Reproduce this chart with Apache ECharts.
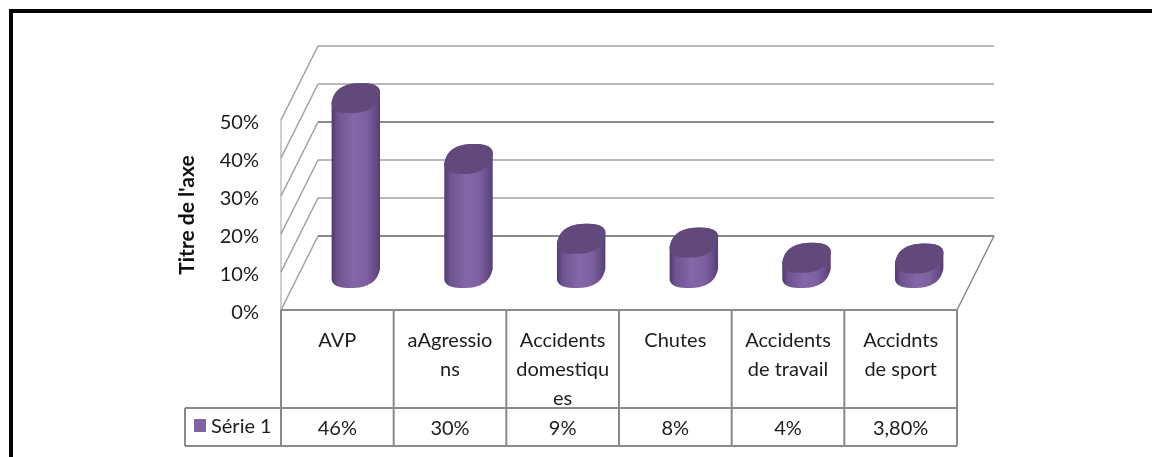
<!DOCTYPE html>
<html><head><meta charset="utf-8">
<style>html,body{margin:0;padding:0;background:#fff}#c{width:1152px;height:457px}</style>
<script src="https://cdn.jsdelivr.net/npm/echarts@6/dist/echarts.min.js"></script>
</head><body><div id="c"></div>
<script>
const categories = ['AVP','aAgressions','Accidents domestiques','Chutes','Accidents de travail','Accidnts de sport'];
const wrappedLabels = ['AVP','aAgressio\nns','Accidents\ndomestiqu\nes','Chutes','Accidents\nde travail','Accidnts\nde sport'];
const values = [46,30,9,8,4,3.8];
const tableValues = ['46%','30%','9%','8%','4%','3,80%'];
const seriesName = 'Série 1';
const gridTicks = [0,10,20,30,40,50];

const FONT = 'Lato, "Open Sans", sans-serif';
const DX = 37, DY = -74;       // oblique depth of the 3D box
const LINE = '#8a8a8a';
const TXT = '#1c1c1c';
const CA = 23, CC = 5.5, CE = 15, CP = 0.8;

function lineEl(x1,y1,x2,y2,w,c){return {type:'line',shape:{x1,y1,x2,y2},style:{stroke:c||LINE,lineWidth:w||1.5},silent:true};}

function ellipsePts(cx,cy,from,to){
  const pts=[],n=48;
  for(let i=0;i<=n;i++){
    const t=from+(to-from)*i/n, ct=Math.cos(t), st=Math.sin(t);
    const C=Math.sign(ct)*Math.pow(Math.abs(ct),CP), S=Math.sign(st)*Math.pow(Math.abs(st),CP);
    pts.push([cx+CA*C+CC*S, cy-CE*S]);
  }
  return pts;
}

function renderWalls(params,api){
  const v=api.value(0), p=api.coord([0,v]), x0=p[0], y=p[1];
  const end=api.coord([5,v]); const band=api.size([1,0])[0];
  const xR=end[0]+band/2, xL=x0-band/2;
  const heavy=(v===30||v===0);
  const children=[
    lineEl(xL,y,xL+DX,y+DY,1.5,'#a0a0a0'),
    lineEl(xL+DX,y+DY,xR+DX,y+DY,heavy?2.2:1.6,heavy?'#8a8a8a':'#a0a0a0')
  ];
  if(v===0){
    children.push(lineEl(xR,y,xR+DX,y+DY,1.6,'#8a8a8a'));
    children.push(lineEl(xL,y,xL,api.coord([0,50])[1],1.2,'#b0b0b0'));
  }
  return {type:'group',children};
}

function renderCyl(params,api){
  const i=api.value(0), v=api.value(1);
  const b=api.coord([i,0]), t=api.coord([i,v]);
  const cx=b[0]+DX/2, yb=b[1]+DY/2, yt=t[1]+DY/2;
  const tx=Math.atan2(CC,CA);
  const body=ellipsePts(cx,yt,tx,tx+Math.PI).concat(ellipsePts(cx,yb,tx+Math.PI,tx+2*Math.PI));
  const cap=ellipsePts(cx,yt,0,2*Math.PI);
  const grad=new echarts.graphic.LinearGradient(0,0,1,0,[
    {offset:0,color:'#4f3a6c'},{offset:0.12,color:'#6d5390'},{offset:0.45,color:'#8467a6'},
    {offset:0.72,color:'#7d60a0'},{offset:0.92,color:'#644a85'},{offset:1,color:'#543d72'}]);
  return {type:'group',children:[
    {type:'polygon',shape:{points:body},style:{fill:grad}},
    {type:'polygon',shape:{points:cap},style:{fill:'#61497c'}}
  ]};
}

function renderTable(params,api){
  const i=api.value(0), c=api.coord([i,0]), band=api.size([1,0])[0];
  const xL=c[0]-band/2, xR=c[0]+band/2, y0=c[1], yM=408, yB=446;
  const children=[
    lineEl(xL,y0,xL,yB,2),
    lineEl(xL,y0,xR,y0,2),
    lineEl(xL,yM,xR,yM,2),
    lineEl(xL,yB,xR,yB,2),
    {type:'text',style:{text:tableValues[i],x:c[0],y:429,align:'center',verticalAlign:'middle',
      font:'20px '+FONT,fill:TXT}}
  ];
  if(i===5) children.push(lineEl(xR,y0,xR,yB,2));
  if(i===0) children.push(
    lineEl(185,yM,xL,yM,2),lineEl(185,yB,xL,yB,2),lineEl(185,yM,185,yB,2),
    {type:'rect',shape:{x:194,y:419,width:12,height:13},style:{fill:'#8064a2'}},
    {type:'text',style:{text:seriesName,x:211,y:427,align:'left',verticalAlign:'middle',
      font:'20px '+FONT,fill:TXT}}
  );
  return {type:'group',children};
}

const chart=echarts.init(document.getElementById('c'),null,{renderer:'canvas'});
chart.setOption({
  animation:false,
  backgroundColor:'#fff',
  grid:{left:281,top:120,width:676,height:190,containLabel:false},
  xAxis:{type:'category',data:categories,axisLine:{show:false},axisTick:{show:false},
    axisLabel:{interval:0,margin:16,lineHeight:29,fontFamily:FONT,fontSize:20,color:TXT,verticalAlign:'top',
      formatter:(v,i)=>wrappedLabels[i]}},
  yAxis:{type:'value',min:0,max:50,interval:10,splitLine:{show:false},axisLine:{show:false},axisTick:{show:false},
    axisLabel:{margin:22,formatter:'{p|{value}%}',
      rich:{p:{fontFamily:FONT,fontSize:20,color:TXT,padding:[5,0,0,0]}}},
    name:"Titre de l'axe",nameLocation:'middle',nameRotate:90,nameGap:83,
    nameTextStyle:{fontFamily:FONT,fontSize:21,fontWeight:'bold',color:'#111'}},
  graphic:[
    {type:'rect',z:100,shape:{x:9,y:9,width:1143,height:4},style:{fill:'#000'},silent:true},
    {type:'rect',z:100,shape:{x:9,y:9,width:4,height:448},style:{fill:'#000'},silent:true}
  ],
  series:[
    {type:'custom',silent:true,z:1,data:gridTicks.map(v=>[v]),encode:{y:0},renderItem:renderWalls,clip:false},
    {type:'custom',silent:true,z:2,data:categories.map((c,i)=>[i]),encode:{x:0},renderItem:renderTable,clip:false},
    {type:'custom',name:seriesName,silent:true,z:3,data:values.map((v,i)=>[i,v]),encode:{x:0,y:1},renderItem:renderCyl,clip:false}
  ]
});
</script></body></html>
